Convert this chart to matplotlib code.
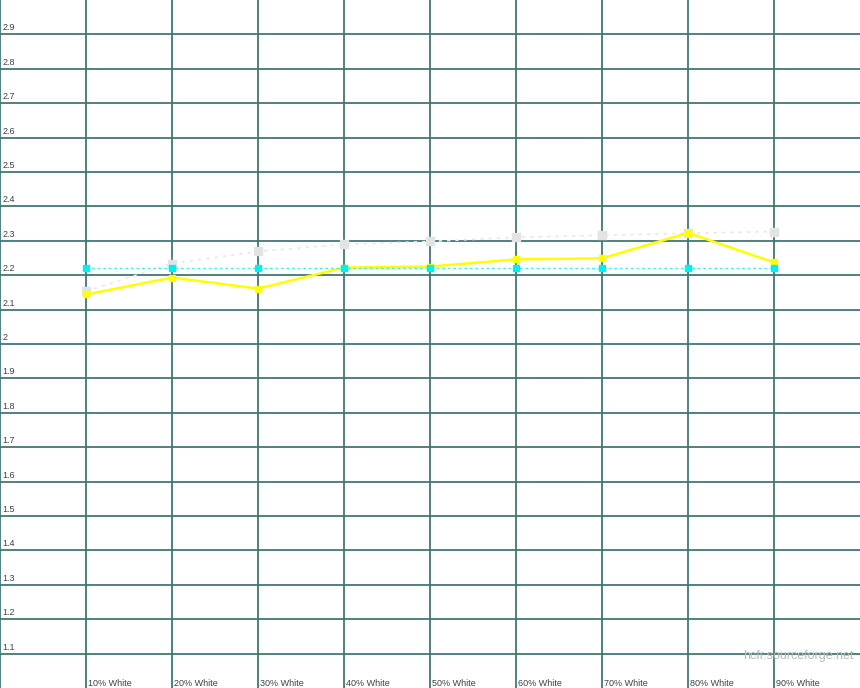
import matplotlib
matplotlib.use("Agg")
import matplotlib.pyplot as plt

categories = ["10% White", "20% White", "30% White", "40% White", "50% White",
              "60% White", "70% White", "80% White", "90% White"]
measured_gamma = [2.144, 2.193, 2.161, 2.222, 2.225, 2.246, 2.249, 2.323, 2.237]
reference_gamma = [2.153, 2.234, 2.269, 2.290, 2.298, 2.310, 2.316, 2.322, 2.327]
target_gamma = [2.22] * 9
y_ticks = [1.1, 1.2, 1.3, 1.4, 1.5, 1.6, 1.7, 1.8, 1.9, 2.0,
           2.1, 2.2, 2.3, 2.4, 2.5, 2.6, 2.7, 2.8, 2.9]
y_tick_labels = ["1.1", "1.2", "1.3", "1.4", "1.5", "1.6", "1.7", "1.8", "1.9", "2",
                 "2.1", "2.2", "2.3", "2.4", "2.5", "2.6", "2.7", "2.8", "2.9"]
watermark = "hcfr.sourceforge.net"

fig = plt.figure(figsize=(8.6, 6.88), dpi=100)
ax = fig.add_axes([0, 0, 1, 1])
ax.set_xlim(0, 10)
ax.set_ylim(1.0, 3.0)
ax.axis("off")
fig.patch.set_facecolor("white")

grid_color = "#437575"
for v in y_ticks:
    ax.axhline(v, color=grid_color, lw=1.3, zorder=1)
for i in range(0, 10):
    ax.axvline(i, color=grid_color, lw=1.3, zorder=1)

font = ["Liberation Sans", "DejaVu Sans"]
for v, lab in zip(y_ticks, y_tick_labels):
    ax.annotate(lab, xy=(0, v), xytext=(1.5, 1.5), textcoords="offset points",
                fontsize=6.5, color="#404040", ha="left", va="bottom",
                family=font)

xs = list(range(1, len(categories) + 1))
for x, lab in zip(xs, categories):
    ax.annotate(lab, xy=(x, 1.0), xytext=(1.5, 0.3), textcoords="offset points",
                fontsize=6.5, color="#404040", ha="left", va="bottom",
                family=font)

ax.plot(xs, reference_gamma, color="#e8e8e8", lw=1.2, ls=(0, (2, 3)),
        marker="s", ms=5.5, mfc="#e3e3e3", mec="#e3e3e3", zorder=3)
ax.plot(xs, measured_gamma, color="#ffff00", lw=1.8, marker="s", ms=5,
        mfc="#ffff00", mec="#ffff00", zorder=4)
ax.plot(xs, target_gamma, color="#40f0f0", lw=1, ls=(0, (2, 2)),
        marker="s", ms=5, mfc="#00f0f0", mec="#00f0f0", zorder=5)

ax.text(0.993, 0.046, watermark, transform=ax.transAxes, ha="right", va="center",
        fontsize=9, color="#b8b8b8", family=font)

fig.savefig("out.png", dpi=100, facecolor="white")
